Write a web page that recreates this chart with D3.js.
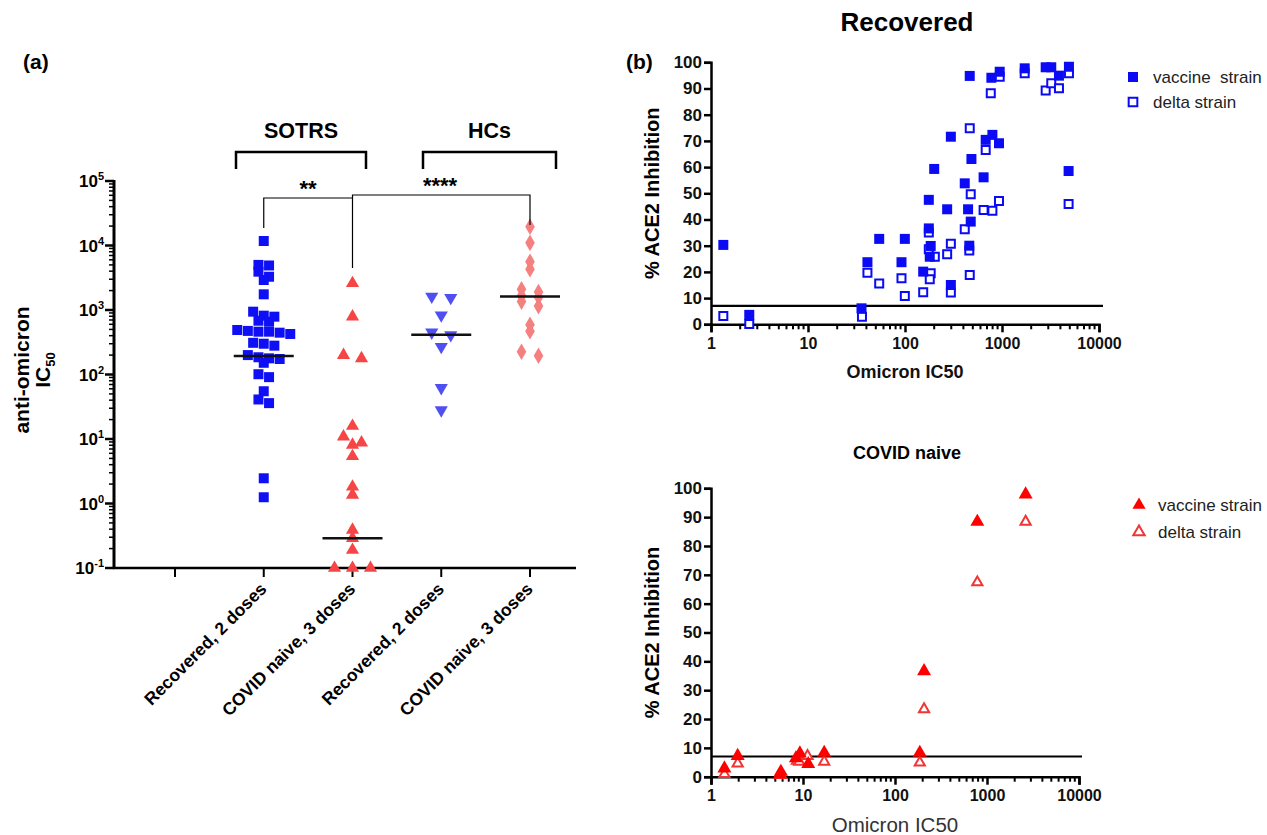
<!DOCTYPE html>
<html><head><meta charset="utf-8">
<script src="https://cdn.jsdelivr.net/npm/d3@7"></script>
<style>
body{margin:0;background:#fff}
svg{font-family:Arial,"Liberation Sans",sans-serif}
</style>
</head><body>
<svg id="c" width="1267" height="835"></svg>
<script>
// ---------------- DATA ----------------
// Panel (a): anti-omicron IC50 per group
const categoryKeys = ["gap", "sotrsRec", "sotrsNaive", "hcRec", "hcNaive"];
const categoryLabels = ["", "Recovered, 2 doses", "COVID naive, 3 doses", "Recovered, 2 doses", "COVID naive, 3 doses"];
const sotrsRecovered = [11750, 5000, 4900, 3930, 3280, 2920, 1750, 942, 817, 788, 682, 659,
  490, 474, 461, 461, 445, 425, 310, 300, 280, 200, 185, 178, 174, 152, 101, 91, 55, 41, 36, 2.46, 1.25];
const sotrsNaive = [2600, 787, 200, 178, 15.9, 10.9, 8.8, 8.1, 5.4, 1.82, 1.36, 0.39, 0.29, 0.19, 0.1, 0.1, 0.1];
const hcRecovered = [1620, 1550, 830, 450, 410, 270, 62, 28];
const hcNaive = [19500, 11000, 5600, 4300, 2100, 1900, 1660, 1580, 1350, 1150, 590, 470, 225, 195];
const groupMedians = [193, 0.29, 415, 1620];
const yTickPowersA = [-1, 0, 1, 2, 3, 4, 5];

// Panel (b) top: Recovered
const recIC50 = [1.34, 2.48, 35.6, 41, 54.2, 99.6, 92, 154, 176, 176, 184, 180, 200, 272, 297, 297, 413, 447, 465, 476, 484, 460, 646, 679, 777, 796, 931, 947, 1714, 2820, 3220, 3866, 4900, 4860];
const recVaccine = [30.3, 3.6, 6.1, 23.7, 32.6, 32.6, 23.7, 20.1, 47.5, 36.6, 29.9, 25.8, 59.3, 43.9, 71.6, 15.0, 53.8, 43.9, 94.8, 39.2, 63.1, 30.0, 56.1, 70.4, 94.1, 72.3, 69.1, 96.4, 97.7, 98.1, 98.1, 94.9, 98.3, 58.5];
const recDeltaIC50 = [1.34, 2.48, 36, 41, 54.2, 99.6, 92, 154, 176, 176, 184, 180, 203, 272, 297, 297, 413, 465, 476, 465, 460, 646, 679, 766, 796, 931, 947, 1714, 2820, 3220, 3866, 4900, 4860];
const recDelta = [3.2, 0.1, 2.9, 19.7, 15.6, 10.8, 17.6, 12.2, 35.0, 28.6, 19.5, 17.2, 25.8, 26.7, 30.7, 12.1, 36.3, 74.8, 49.6, 18.8, 28.2, 43.6, 66.5, 88.2, 43.3, 47.1, 94.5, 95.8, 89.2, 92.0, 90.1, 95.8, 45.9];

// Panel (b) bottom: COVID naive
const naiveIC50 = [1.40, 1.95, 5.75, 5.6, 8.37, 9.25, 11.4, 17.0, 186, 207, 785, 2630];
const naiveVaccine = [2.9, 7.2, 1.7, 0.8, 6.4, 8.1, 4.4, 8.3, 8.3, 36.6, 88.4, 97.9];
const naiveDeltaIC50 = [1.40, 1.95, 5.75, 8.6, 9.1, 11.2, 17.0, 186, 207, 785, 2630];
const naiveDelta = [0.9, 4.6, 0.6, 5.5, 5.2, 7.2, 5.2, 4.9, 23.4, 67.4, 88.4];
const threshold = 7;
const xTicksB = [1, 10, 100, 1000, 10000];
const yTicksB = [0, 10, 20, 30, 40, 50, 60, 70, 80, 90, 100];

// ---------------- DRAW ----------------
const svg = d3.select("#c");
const BLUE = "#0a0af5", RED = "#ff0000";
const FONT = "Arial, Liberation Sans, sans-serif";

// ===== Panel (a) =====
const xA = d3.scalePoint().domain(categoryKeys).range([175, 530]);
const yA = d3.scaleLog().domain([0.1, 1e5]).range([568, 181]);
const gA = svg.append("g");

gA.append("text").attr("x", 23).attr("y", 69).attr("font-size", 21).attr("font-weight", "bold").text("(a)");

// y axis ticks
const majorA = yTickPowersA.map(p => Math.pow(10, p));
const minorA = [];
yTickPowersA.slice(0, -1).forEach(p => { for (let k = 2; k <= 9; k++) minorA.push(k * Math.pow(10, p)); });
gA.selectAll(".mnA").data(minorA).enter().append("line")
  .attr("x1", 109).attr("x2", 114).attr("y1", d => yA(d)).attr("y2", d => yA(d))
  .attr("stroke", "#000").attr("stroke-width", 1.5);
gA.selectAll(".mjA").data(majorA).enter().append("line")
  .attr("x1", 105).attr("x2", 114).attr("y1", d => yA(d)).attr("y2", d => yA(d))
  .attr("stroke", "#000").attr("stroke-width", 2.5);
const ytl = gA.selectAll(".ytA").data(yTickPowersA).enter().append("text")
  .attr("x", 104).attr("y", d => yA(Math.pow(10, d)) + 6)
  .attr("text-anchor", "end").attr("font-size", 17).attr("font-weight", "bold");
ytl.append("tspan").text("10");
ytl.append("tspan").attr("dy", -7).attr("font-size", 11).text(d => String(d));

// axis lines
gA.append("line").attr("x1", 114).attr("x2", 114).attr("y1", 180).attr("y2", 569).attr("stroke", "#000").attr("stroke-width", 3);
gA.append("line").attr("x1", 113).attr("x2", 576).attr("y1", 568).attr("y2", 568).attr("stroke", "#000").attr("stroke-width", 2.5);
gA.selectAll(".xtA").data(categoryKeys).enter().append("line")
  .attr("x1", d => xA(d)).attr("x2", d => xA(d)).attr("y1", 568).attr("y2", 577)
  .attr("stroke", "#000").attr("stroke-width", 2);
gA.selectAll(".xlA").data(categoryKeys).enter().append("text")
  .attr("transform", d => `translate(${xA(d) + 4},590) rotate(-45)`)
  .attr("text-anchor", "end").attr("font-size", 17.5).attr("font-weight", "bold")
  .text((d, i) => categoryLabels[i]);

// y label
const yl = gA.append("g").attr("transform", "translate(0,370) rotate(-90)");
yl.append("text").attr("x", 0).attr("y", 29).attr("text-anchor", "middle").attr("font-size", 21).attr("font-weight", "bold").text("anti-omicron");
const ic = yl.append("text").attr("x", 0).attr("y", 50).attr("text-anchor", "middle").attr("font-size", 21).attr("font-weight", "bold");
ic.append("tspan").text("IC");
ic.append("tspan").attr("dy", 5).attr("font-size", 13).text("50");

// swarm layout (rows of points at similar heights, centred on the category)
function swarm(values, step, h) {
  const pts = values.map((v, i) => ({ v, i, py: yA(v) })).sort((a, b) => a.py - b.py);
  const rows = []; let cur = null;
  for (const p of pts) {
    if (cur && p.py - cur[0].py < h) cur.push(p); else { cur = [p]; rows.push(cur); }
  }
  rows.forEach(r => r.forEach((p, k) => { p.dx = (k - (r.length - 1) / 2) * step; }));
  return pts;
}
const groupsA = [
  { key: "sotrsRec", vals: sotrsRecovered, sym: d3.symbolSquare, size: 100, color: "#0f0ff5", step: 10.6, h: 6, rot: 0 },
  { key: "sotrsNaive", vals: sotrsNaive, sym: d3.symbolTriangle, size: 75, color: "#f64545", step: 18, h: 8, rot: 0 },
  { key: "hcRec", vals: hcRecovered, sym: d3.symbolTriangle, size: 75, color: "#5050f2", step: 19, h: 8, rot: 180 },
  { key: "hcNaive", vals: hcNaive, sym: d3.symbolDiamond, size: 80, color: "#f58080", step: 17, h: 5, rot: 0 }
];
groupsA.forEach(g => {
  const pts = swarm(g.vals, g.step, g.h);
  gA.selectAll(null).data(pts).enter().append("path")
    .attr("d", d3.symbol().type(g.sym).size(g.size))
    .attr("transform", d => `translate(${xA(g.key) + d.dx},${d.py}) rotate(${g.rot})`)
    .attr("fill", g.color);
});
// medians
gA.selectAll(".med").data(groupMedians).enter().append("line")
  .attr("x1", (d, i) => xA(categoryKeys[i + 1]) - 30).attr("x2", (d, i) => xA(categoryKeys[i + 1]) + 30)
  .attr("y1", d => yA(d)).attr("y2", d => yA(d))
  .attr("stroke", "#111").attr("stroke-width", 2.5);

// group brackets
function bracket(x1, x2, label) {
  gA.append("path").attr("d", `M${x1},169V152H${x2}V169`).attr("fill", "none").attr("stroke", "#000").attr("stroke-width", 2.5);
  gA.append("text").attr("x", (x1 + x2) / 2).attr("y", 138).attr("text-anchor", "middle").attr("font-size", 21.5).attr("font-weight", "bold").text(label);
}
bracket(236, 366, "SOTRS");
bracket(423, 556, "HCs");
// significance lines
gA.append("path").attr("d", `M${xA("sotrsRec")},228V198H${xA("sotrsNaive")}V268`).attr("fill", "none").attr("stroke", "#000").attr("stroke-width", 1.2);
gA.append("path").attr("d", `M${xA("sotrsNaive")},198V195H${xA("hcNaive")}V225`).attr("fill", "none").attr("stroke", "#000").attr("stroke-width", 1.2);
gA.append("text").attr("x", 308).attr("y", 196).attr("text-anchor", "middle").attr("font-size", 22).attr("font-weight", "bold").text("**");
gA.append("text").attr("x", 440).attr("y", 193).attr("text-anchor", "middle").attr("font-size", 22).attr("font-weight", "bold").text("****");

// ===== Panel (b) =====
svg.append("text").attr("x", 626).attr("y", 69).attr("font-size", 21).attr("font-weight", "bold").text("(b)");

function panelB(opt) {
  const g = svg.append("g");
  const x = d3.scaleLog().domain([1, 10000]).range([711, opt.xEnd]);
  const y = d3.scaleLinear().domain([0, 100]).range([opt.y0, opt.y100]);
  // title
  g.append("text").attr("x", 907).attr("y", opt.titleY).attr("text-anchor", "middle")
    .attr("font-size", opt.titleSize).attr("font-weight", "bold").text(opt.title);
  // y axis
  const ya = g.append("g").attr("transform", "translate(711,0)")
    .call(d3.axisLeft(y).tickValues(yTicksB).tickSize(7).tickPadding(2));
  ya.select(".domain").attr("stroke-width", 2.5);
  ya.selectAll(".tick line").attr("stroke-width", 2.5);
  ya.selectAll("text").attr("font-size", 17).attr("font-weight", "bold").attr("fill", "#111").attr("font-family", FONT);
  // x axis
  const minors = [];
  [1, 10, 100, 1000].forEach(p => { for (let k = 2; k <= 9; k++) minors.push(k * p); });
  g.selectAll(null).data(minors).enter().append("line")
    .attr("x1", d => x(d)).attr("x2", d => x(d)).attr("y1", opt.y0).attr("y2", opt.y0 + 5)
    .attr("stroke", "#000").attr("stroke-width", 2);
  const xa = g.append("g").attr("transform", `translate(0,${opt.y0})`)
    .call(d3.axisBottom(x).tickValues(xTicksB).tickFormat(d3.format("d")).tickSize(8).tickPadding(5));
  xa.select(".domain").attr("stroke-width", 2.5);
  xa.selectAll(".tick line").attr("stroke-width", 2.5);
  xa.selectAll("text").attr("font-size", 16).attr("font-weight", "bold").attr("fill", "#111").attr("font-family", FONT);
  // threshold
  g.append("line").attr("x1", 711).attr("x2", opt.thrEnd).attr("y1", y(threshold)).attr("y2", y(threshold))
    .attr("stroke", "#000").attr("stroke-width", 2.2);
  // axis titles
  g.append("text").attr("transform", `translate(659,${(opt.y0 + opt.y100) / 2}) rotate(-90)`)
    .attr("text-anchor", "middle").attr("font-size", 20).attr("font-weight", "bold").text("% ACE2 Inhibition");
  g.append("text").attr("x", (711 + opt.xEnd) / 2).attr("y", opt.xTitleY).attr("text-anchor", "middle")
    .attr("font-size", opt.xTitleSize).attr("font-weight", opt.xTitleWeight).attr("fill", opt.xTitleColor).text("Omicron IC50");
  // points: open first then filled
  g.selectAll(null).data(opt.openY).enter().append("path")
    .attr("d", d3.symbol().type(opt.sym).size(opt.openSize))
    .attr("transform", (d, i) => `translate(${x(opt.openX[i])},${y(d)})`)
    .attr("fill", "#fff").attr("stroke", opt.openColor).attr("stroke-width", 2);
  g.selectAll(null).data(opt.fillY).enter().append("path")
    .attr("d", d3.symbol().type(opt.sym).size(opt.fillSize))
    .attr("transform", (d, i) => `translate(${x(opt.fillX[i])},${y(d)})`)
    .attr("fill", opt.fillColor);
  // legend
  const lg = g.append("g");
  lg.append("path").attr("d", d3.symbol().type(opt.sym).size(opt.legSize))
    .attr("transform", `translate(${opt.legX},${opt.legY1})`).attr("fill", opt.fillColor);
  lg.append("path").attr("d", d3.symbol().type(opt.sym).size(opt.legSize * 0.75))
    .attr("transform", `translate(${opt.legX},${opt.legY2})`).attr("fill", "#fff").attr("stroke", opt.openColor).attr("stroke-width", 2);
  lg.append("text").attr("x", opt.legX + opt.legGap).attr("y", opt.legY1 + 6).attr("font-size", 17).attr("fill", "#222")
    .style("white-space", "pre").text(opt.leg1);
  lg.append("text").attr("x", opt.legX + opt.legGap).attr("y", opt.legY2 + 6).attr("font-size", 17).attr("fill", "#222").text("delta strain");
}

panelB({
  title: "Recovered", titleY: 31, titleSize: 26,
  y0: 324.3, y100: 62.3, xEnd: 1099, thrEnd: 1103,
  xTitleY: 378, xTitleSize: 18, xTitleWeight: "bold", xTitleColor: "#111",
  sym: d3.symbolSquare, fillSize: 100, openSize: 64,
  fillX: recIC50, fillY: recVaccine, openX: recDeltaIC50, openY: recDelta,
  fillColor: BLUE, openColor: BLUE,
  legX: 1133, legY1: 77, legY2: 102, legSize: 100, legGap: 20, leg1: "vaccine  strain"
});
panelB({
  title: "COVID naive", titleY: 459, titleSize: 18,
  y0: 776.7, y100: 488.3, xEnd: 1079, thrEnd: 1082,
  xTitleY: 832, xTitleSize: 20.5, xTitleWeight: "normal", xTitleColor: "#333",
  sym: d3.symbolTriangle, fillSize: 85, openSize: 45,
  fillX: naiveIC50, fillY: naiveVaccine, openX: naiveDeltaIC50, openY: naiveDelta,
  fillColor: RED, openColor: "#f03535",
  legX: 1139, legY1: 505, legY2: 532, legSize: 75, legGap: 19, leg1: "vaccine strain"
});
</script>
</body></html>
